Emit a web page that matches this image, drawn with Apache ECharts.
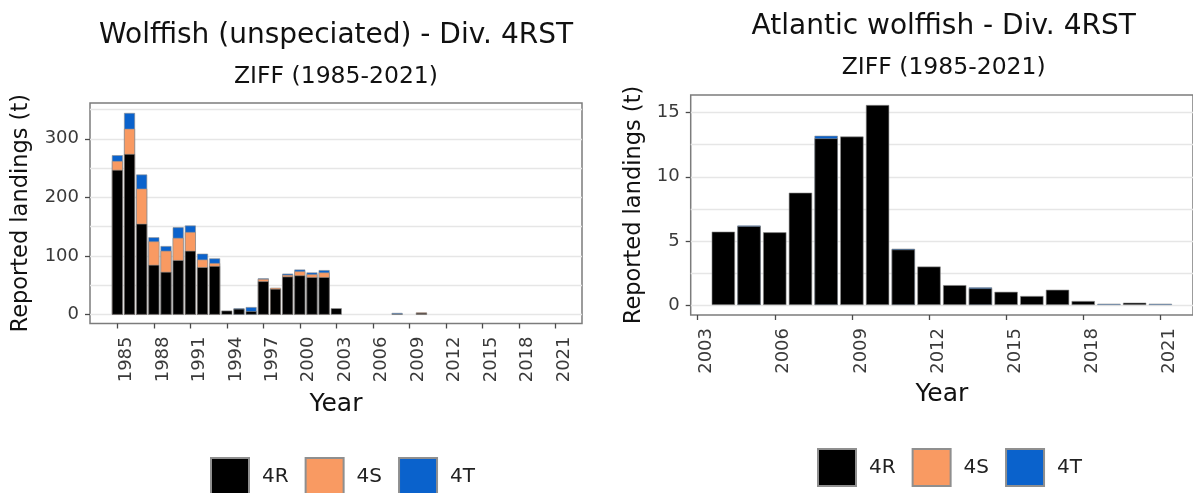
<!DOCTYPE html>
<html>
<head>
<meta charset="utf-8">
<script src="https://cdn.jsdelivr.net/npm/echarts@6/dist/echarts.min.js"></script>
<style>
  html, body { margin: 0; padding: 0; background: #ffffff; }
  #chart { width: 1193px; height: 493px; }
</style>
</head>
<body>
<div id="chart"></div>
<script>
// Reported wolffish landings (t) by division, ZIFF 1985-2021

// --- Wolffish (unspeciated) ---
const leftYears = [1985, 1986, 1987, 1988, 1989, 1990, 1991, 1992, 1993, 1994,
                   1995, 1996, 1997, 1998, 1999, 2000, 2001, 2002, 2003, 2004,
                   2005, 2006, 2007, 2008, 2009, 2010, 2011, 2012, 2013, 2014,
                   2015, 2016, 2017, 2018, 2019, 2020, 2021];
const left4R = [247, 274, 155, 85, 73, 93, 109, 81, 83, 7,
                10, 6, 57, 44, 65, 67, 64, 64, 11, null,
                null, null, null, 1.5, null, 3, null, null, null, null,
                null, null, null, null, null, null, null];
const left4S = [15, 43, 60, 40, 36, 38, 32, 13, 5, null,
                null, null, 4, 2, 3, 7, 5, 8, null, null,
                null, null, null, null, null, 1, null, null, null, null,
                null, null, null, null, null, null, null];
const left4T = [10, 27, 24, 7, 8, 18, 11, 10, 8, null,
                1, 7, 1, null, 2, 3, 3, 4, null, null,
                null, null, null, 1.5, null, null, null, null, null, null,
                null, null, null, null, null, null, null];
const leftXTicks = [1985, 1988, 1991, 1994, 1997, 2000, 2003, 2006, 2009, 2012, 2015, 2018, 2021];
const leftYTicks = [0, 100, 200, 300];
const leftGridLines = [0, 50, 100, 150, 200, 250, 300, 350];

// --- Atlantic wolffish ---
const rightYears = [2004, 2005, 2006, 2007, 2008, 2009, 2010, 2011, 2012,
                    2013, 2014, 2015, 2016, 2017, 2018, 2019, 2020, 2021];
const right4R = [5.72, 6.15, 5.67, 8.76, 13.0, 13.14, 15.6, 4.33, 3.0,
                 1.55, 1.3, 1.03, 0.7, 1.19, 0.31, null, 0.18, null];
const right4S = [null, null, null, null, null, null, null, null, null,
                 null, null, null, null, null, null, null, null, null];
const right4T = [null, 0.05, null, null, 0.2, null, null, 0.06, null,
                 null, 0.08, null, null, null, null, 0.1, null, 0.1];
const rightXTicks = [2003, 2006, 2009, 2012, 2015, 2018, 2021];
const rightYTicks = [0, 5, 10, 15];
const rightGridLines = [0, 2.5, 5, 7.5, 10, 12.5, 15];

const divisions = ['4R', '4S', '4T'];

const FONT = 'DejaVu Sans';
const COLORS = { '4R': '#000000', '4S': '#F99A62', '4T': '#0A62CC' };
const TICK_TEXT = '#3a3a3a';

const panels = [
  {
    title: 'Wolffish (unspeciated) - Div. 4RST',
    subtitle: 'ZIFF (1985-2021)',
    titleTop: 22, subTop: 65,
    grid: { left: 90, top: 103, width: 492, height: 220.5 },
    xRange: [1982.75, 2023.2], yRange: [-15, 361],
    years: leftYears, values: [left4R, left4S, left4T],
    xTicks: leftXTicks, yTicks: leftYTicks, gridLines: leftGridLines,
    yNameGap: 57, xNameGap: 68,
    legend: { left: 210, top: 457 }
  },
  {
    title: 'Atlantic wolffish - Div. 4RST',
    subtitle: 'ZIFF (1985-2021)',
    titleTop: 13, subTop: 56,
    grid: { left: 690.7, top: 95, width: 506, height: 220 },
    xRange: [2002.73, 2022.27], yRange: [-0.78, 16.38],
    years: rightYears, values: [right4R, right4S, right4T],
    xTicks: rightXTicks, yTicks: rightYTicks, gridLines: rightGridLines,
    yNameGap: 45, xNameGap: 67,
    legend: { left: 817, top: 448 }
  }
];

// Running top of each stacked segment (4R, then 4R+4S, then 4R+4S+4T);
// a segment that is absent stays empty.
function stackTops(valueLists) {
  const n = valueLists[0].length;
  const running = new Array(n).fill(0);
  return valueLists.map(list => list.map((v, j) => {
    if (v == null) return null;
    running[j] += v;
    return running[j];
  }));
}

const option = {
  backgroundColor: '#ffffff',
  animation: false,
  title: [],
  grid: [],
  xAxis: [],
  yAxis: [],
  legend: [],
  series: []
};

panels.forEach((p, i) => {
  const cx = p.grid.left + p.grid.width / 2;
  option.title.push({
    text: p.title, left: cx, top: p.titleTop, textAlign: 'center', padding: 0,
    textStyle: { fontFamily: FONT, fontSize: 28, fontWeight: 'normal', color: '#111111' }
  });
  option.title.push({
    text: p.subtitle, left: cx, top: p.subTop, textAlign: 'center', padding: 0,
    textStyle: { fontFamily: FONT, fontSize: 23.5, fontWeight: 'normal', color: '#111111' }
  });

  option.grid.push({
    left: p.grid.left, top: p.grid.top, width: p.grid.width, height: p.grid.height,
    show: true, borderColor: '#7c7c7c', borderWidth: 1.5, backgroundColor: '#ffffff',
    containLabel: false
  });

  option.xAxis.push({
    type: 'value', gridIndex: i, min: p.xRange[0], max: p.xRange[1],
    name: 'Year', nameLocation: 'middle', nameGap: p.xNameGap,
    nameTextStyle: { fontFamily: FONT, fontSize: 25, color: '#111111' },
    axisLine: { show: false, onZero: false },
    axisTick: { show: true, length: 5, customValues: p.xTicks,
                lineStyle: { color: '#4a4a4a', width: 1.3 } },
    axisLabel: { customValues: p.xTicks, rotate: 90, margin: 13, verticalAlign: 'top',
                 formatter: v => String(v),
                 fontFamily: FONT, fontSize: 18, color: TICK_TEXT },
    splitLine: { show: false }
  });

  option.yAxis.push({
    type: 'value', gridIndex: i, min: p.yRange[0], max: p.yRange[1],
    name: 'Reported landings (t)', nameLocation: 'middle', nameGap: p.yNameGap, nameRotate: 90,
    nameTextStyle: { fontFamily: FONT, fontSize: 22.5, color: '#111111' },
    axisLine: { show: false, onZero: false },
    axisTick: { show: true, length: 5, customValues: p.yTicks,
                lineStyle: { color: '#4a4a4a', width: 1.3 } },
    axisLabel: { customValues: p.yTicks, margin: 11, formatter: v => String(v),
                 fontFamily: FONT, fontSize: 18, color: TICK_TEXT },
    splitLine: { show: false }
  });

  option.legend.push({
    data: divisions, left: p.legend.left, top: p.legend.top, padding: 0,
    orient: 'horizontal', icon: 'rect', itemWidth: 38, itemHeight: 37, itemGap: 16,
    selectedMode: false,
    textStyle: { fontFamily: FONT, fontSize: 20, color: '#222222', padding: [0, 0, 0, 8] }
  });

  // light horizontal guide lines behind the bars
  option.series.push({
    name: 'guides-' + i, type: 'line', xAxisIndex: i, yAxisIndex: i, data: [],
    silent: true, z: 1,
    markLine: {
      silent: true, z: 1, symbol: ['none', 'none'], label: { show: false },
      lineStyle: { color: '#e6e6e6', width: 1.3, type: 'solid' },
      emphasis: { disabled: true },
      data: p.gridLines.map(v => ({ yAxis: v }))
    }
  });

  // bar width: 90% of one year on the axis scale
  const barW = 0.9 * p.grid.width / (p.xRange[1] - p.xRange[0]);
  const tops = stackTops(p.values);

  // each segment is drawn from the baseline up to its running top; lower
  // segments are painted over the upper ones so the stack reads bottom-up
  divisions.forEach((d, k) => {
    option.series.push({
      name: d, type: 'bar', xAxisIndex: i, yAxisIndex: i,
      barWidth: barW, barGap: '-100%', z: 6 - k,
      itemStyle: { color: COLORS[d], borderColor: '#8f8f8f', borderWidth: 0.6 },
      emphasis: { disabled: true },
      data: p.years.map((yr, j) => [yr, tops[k][j] == null ? '-' : tops[k][j]])
    });
  });
});

const chart = echarts.init(document.getElementById('chart'), null, { renderer: 'canvas' });
chart.setOption(option);
</script>
</body>
</html>
